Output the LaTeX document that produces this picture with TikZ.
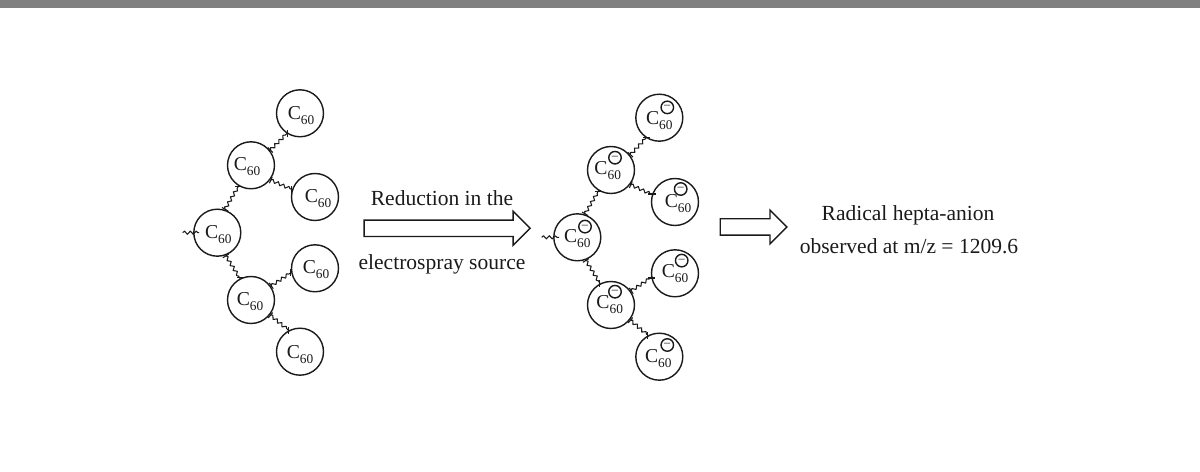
\documentclass[tikz,border=0pt]{standalone}
\usepackage{fontspec}
\setmainfont{Liberation Serif}
\usepackage{xcolor}
\usetikzlibrary{arrows.meta,decorations.pathmorphing,shapes.arrows}
\definecolor{ink}{HTML}{1A1A1A}
\definecolor{topbar}{HTML}{808080}
\tikzset{
  ball/.style={circle,draw=ink,thick,minimum size=.94cm,inner sep=0pt},
  ctext/.style={text=ink,inner sep=0pt,font=\fontsize{11.2}{12}\selectfont},
  charge/.style={circle,draw=ink,thick,minimum size=.25cm,inner sep=0pt,text=ink,
    font=\fontsize{7}{7}\selectfont},
  wavy/.style={draw=ink,semithick,line join=round,{Bar[width=4pt,length=0pt]}-{Bar[width=4pt,length=0pt]},
    decorate,decoration={snake,amplitude=.9pt,segment length=3.3pt,pre length=.3pt,post length=.3pt}},
  tail/.style={draw=ink,semithick,line join=round,decorate,decoration={snake,amplitude=.9pt,segment length=3.3pt}},
  blockarr/.style={single arrow,draw=ink,thick,fill=white,inner sep=.15cm,single arrow head extend=.175cm},
  caption/.style={text=ink,inner sep=0pt,font=\fontsize{12.25}{14}\selectfont}
}
\newcommand{\Csixty}{C\raisebox{-.25em}{\fontsize{7.6}{8}\selectfont 60}}

\begin{document}
\begin{tikzpicture}[x=.02cm,y=-.02cm]
\useasboundingbox (0,0) rectangle (1200,472);
\fill[topbar] (0,0) rectangle (1200,8.5);
% neutral dendron
\foreach \name/\x/\y/\dx/\dy in {top/300/113.3/1/2,mu/251/165.3/-4/1.7,ru/315/197/3/1.7,
    root/217.3/232.7/1/2,rl/315/268.3/1/1,ml/251/300/-1/2,bot/300/351.7/0/3}{
  \node[ball] (a\name) at (\x,\y) {};
  \node[ctext] (ta\name) at ({\x+\dx},{\y+\dy}) {\Csixty};
}
% reduced dendron
\foreach \name/\x/\y/\dx/\dy/\qx/\qy in {top/659.3/117.7/0/3.3/8/-10.3,mu/611/170/-3.3/1/4/-12.3,
    ru/675/202/3/1.7/5.7/-13,root/577.3/237.3/0/1.7/7.7/-10.7,rl/675/273.3/0/.3/6.7/-12.7,
    ml/611/305/-1.3/0/4/-13.3,bot/659.3/356.7/-1/2/8/-11.7}{
  \node[ball] (b\name) at (\x,\y) {};
  \node[ctext] (tb\name) at ({\x+\dx},{\y+\dy}) {\Csixty};
  \node[charge] (q\name) at ({\x+\qx},{\y+\qy}) {--};
}
\foreach \g in {a,b}{
  \foreach \p/\aa/\q/\bb in {root/72/mu/239,root/-70/ml/117,mu/38/top/237,mu/-37/ru/162,
      ml/35/rl/190,ml/-38/bot/118}{
    \draw[wavy] (\g\p.\aa) -- (\g\q.\bb);
  }
}
\coordinate (freea) at (182.7,232.7);
\coordinate (freeb) at (541.7,237.3);
\draw[tail] (freea) -- ([xshift=.12cm]aroot.180);
\draw[tail] (freeb) -- ([xshift=.12cm]broot.180);
% arrows and text
\node[blockarr,minimum height=3.32cm,minimum width=.65cm] (redarrow) at (443,228.3) {};
\node[blockarr,minimum height=1.334cm,minimum width=.65cm] (obsarrow) at (749.5,227) {};
\node[caption] (redone) at (442,198) {Reduction in the};
\node[caption] (redtwo) at (442,264) {electrospray source};
\node[caption] (obsone) at (908,215) {Radical hepta-anion};
\node[caption] (obstwo) at (909,246) {observed at m/z = 1209.6};
\end{tikzpicture}
\end{document}
